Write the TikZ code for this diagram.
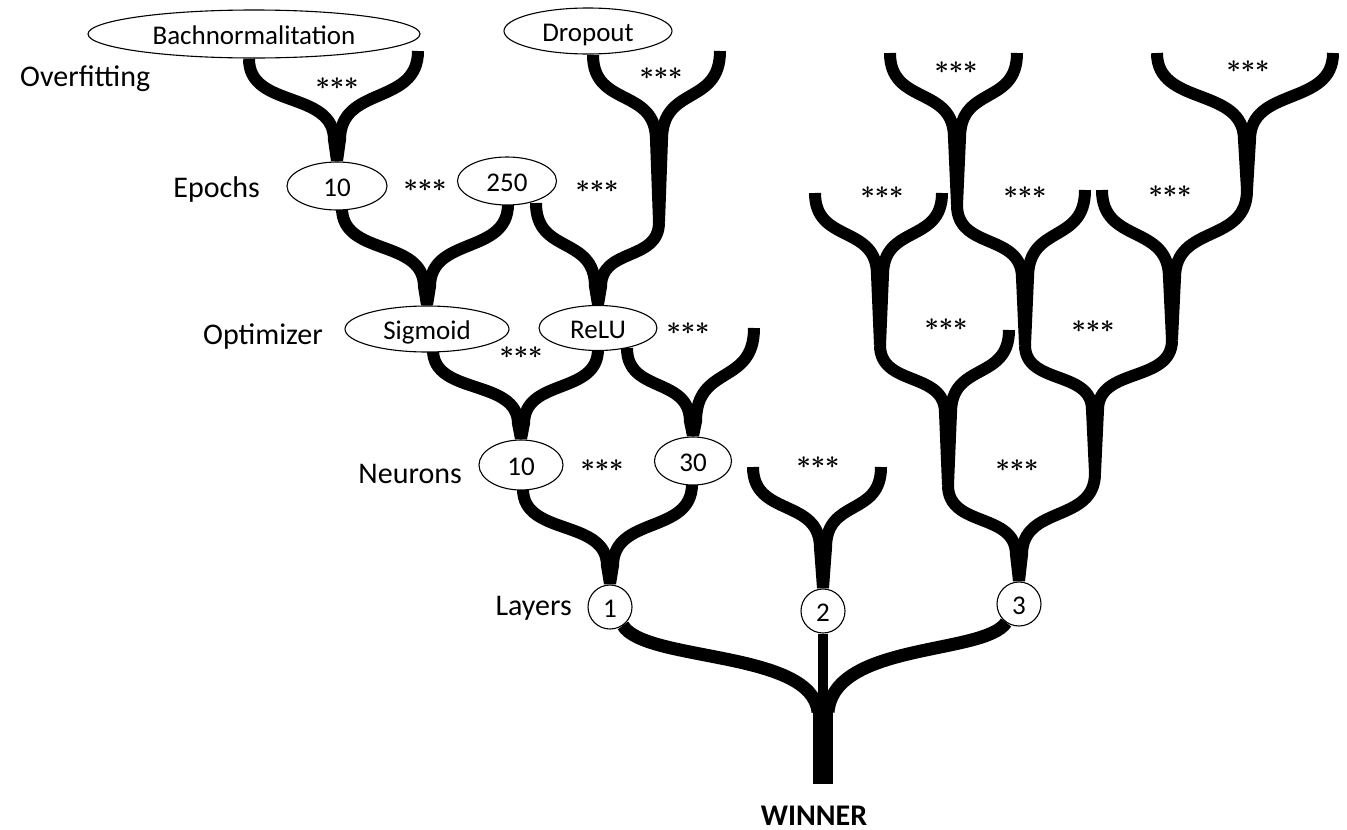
\documentclass[tikz,border=0pt]{standalone}
\usepackage{amsmath}
\usepackage{fontspec}
\setmainfont{Carlito}
\usetikzlibrary{shapes.geometric,calc,backgrounds}
\tikzset{
  branch/.style={line width=12pt, black},
  rootline/.style={line width=13pt, black},
  oval/.style={ellipse, draw, line width=1.1pt, fill=white, inner sep=0pt, text height=23pt, text depth=3pt, font=\fontsize{27}{30}\selectfont},
  numcirc/.style={circle, draw, line width=1.1pt, fill=white, inner sep=0pt, minimum size=44pt, text height=23pt, text depth=3pt, font=\fontsize{27}{30}\selectfont},
  lbl/.style={font=\fontsize{30}{34}\selectfont, inner sep=0pt},
  stars/.style={font=\fontsize{27}{30}\selectfont, inner sep=0pt},
}
\newcommand\arm[3][0.62]{\draw[branch] let \p1=(#2), \p2=(#3), \p3=($(\p2)+({-3*sign(\x2-\x1)},0pt)$) in (\p1) .. controls ($(\p1)!#1!(\x1,\y3)$) and ($(\p3)!#1!(\x3,\y1)$) .. (\p3);}
\newcommand\stem[2]{\fill let \p1=(#1), \p2=(#2) in (\x1-9pt,\y1) -- (\x1+9pt,\y1) -- (\x2+6pt,\y2) -- (\x2-6pt,\y2) -- cycle;}
\newcommand\stars{$\boldsymbol{{\ast}{\ast}{\ast}}$}
\begin{document}
\begin{tikzpicture}[x=1pt,y=-1pt]
\useasboundingbox (0,0) rectangle (1347,830);
% nodes
\node[oval, minimum width=332pt, minimum height=48pt] (bn) at (254,34) {Bachnormalitation};
\node[oval, minimum width=168pt, minimum height=46pt] (dr) at (588,31) {Dropout};
\node[lbl, anchor=base west] (overfit) at (20,86) {Overfitting};
\node[oval, minimum width=100pt, minimum height=48pt] (ep10) at (337,186) {10};
\node[oval, minimum width=99pt, minimum height=48pt] (ep250) at (507,181) {250};
\node[lbl, anchor=base east] (epochs) at (260,197) {Epochs};
\node[oval, minimum width=164pt, minimum height=46pt] (sig) at (427,329) {Sigmoid};
\node[oval, minimum width=118pt, minimum height=45pt] (relu) at (598,328) {ReLU};
\node[lbl, anchor=base east] (optim) at (323,344) {Optimizer};
\node[oval, minimum width=84pt, minimum height=50pt] (n10) at (521,465) {10};
\node[oval, minimum width=77pt, minimum height=48pt] (n30) at (693,461) {30};
\node[lbl, anchor=base east] (neurons) at (462,483) {Neurons};
\node[numcirc] (c1) at (610,607) {1};
\node[numcirc] (c2) at (823,611) {2};
\node[numcirc] (c3) at (1019,604) {3};
\node[lbl, anchor=base east] (layers) at (572,615) {Layers};
\node[lbl, font=\bfseries\fontsize{30}{34}\selectfont, anchor=base] (winner) at (814,825) {WINNER};
% stars
\node[stars] (s1) at (337,84) {\stars};
\node[stars] (s2) at (661,74) {\stars};
\node[stars] (s3) at (425,186) {\stars};
\node[stars] (s4) at (597,187) {\stars};
\node[stars] (s5) at (688,329) {\stars};
\node[stars] (s6) at (521,353) {\stars};
\node[stars] (s7) at (602,466) {\stars};
\node[stars] (s8) at (818,463) {\stars};
\node[stars] (s9) at (956,68) {\stars};
\node[stars] (s10) at (1248,67) {\stars};
\node[stars] (s11) at (882,193) {\stars};
\node[stars] (s12) at (1025,193) {\stars};
\node[stars] (s13) at (1170,192) {\stars};
\node[stars] (s14) at (946,325) {\stars};
\node[stars] (s15) at (1093,327) {\stars};
\node[stars] (s16) at (1017,466) {\stars};
% coordinates
\coordinate (aL) at (249,59); \coordinate (aR) at (418,51); \coordinate (aM) at (337,140);
\coordinate (bL) at (593,55); \coordinate (bR) at (720,51); \coordinate (bM) at (659,140); \coordinate (bK) at (659,222);
\coordinate (cL) at (536,203); \coordinate (cM) at (598,287);
\coordinate (dL) at (342,208); \coordinate (dR) at (508,204); \coordinate (dM) at (427,287);
\coordinate (eL) at (433,350); \coordinate (eR) at (598,349); \coordinate (eM) at (521,424);
\coordinate (fL) at (627,348); \coordinate (fR) at (754,328); \coordinate (fM) at (693,422);
\coordinate (gL) at (523,489); \coordinate (gR) at (692,484); \coordinate (gM) at (610,566);
\coordinate (hL) at (753,467); \coordinate (hR) at (881,467); \coordinate (hM) at (823,548);
\coordinate (iL) at (890,53); \coordinate (iR) at (1017,53); \coordinate (iM) at (957,138); \coordinate (iK) at (957,205);
\coordinate (jL) at (1157,53); \coordinate (jR) at (1333,53); \coordinate (jM) at (1247,140); \coordinate (jK) at (1247,190);
\coordinate (kL) at (815,193); \coordinate (kR) at (942,193); \coordinate (kM) at (880,275); \coordinate (kK) at (880,345);
\coordinate (lR) at (1085,190); \coordinate (lM) at (1025,278); \coordinate (lK) at (1025,345);
\coordinate (mL) at (1102,190); \coordinate (mM) at (1172,278); \coordinate (mK) at (1172,340);
\coordinate (nR) at (1009,330); \coordinate (nM) at (948,413); \coordinate (nK) at (948,485);
\coordinate (oM) at (1095,410); \coordinate (oK) at (1095,473);
\coordinate (pM) at (1019,555);
\coordinate (trunkTop) at (823,705); \coordinate (trunkBot) at (823,784);
\coordinate (joinL) at (818,712); \coordinate (joinR) at (828,712); \coordinate (joinC) at (823,712);
\begin{pgfonlayer}{background}
\arm{aL}{aM} \arm{aR}{aM} \stem{aM}{ep10.north}
\arm{bL}{bM} \arm{bR}{bM} \stem{bM}{bK}
\arm{cL}{cM} \arm{bK}{cM} \stem{cM}{relu.north}
\arm{dL}{dM} \arm{dR}{dM} \stem{dM}{sig.north}
\arm{eL}{eM} \arm{eR}{eM} \stem{eM}{n10.north}
\arm{fL}{fM} \arm{fR}{fM} \stem{fM}{n30.north}
\arm{gL}{gM} \arm{gR}{gM} \stem{gM}{c1.north}
\arm{hL}{hM} \arm{hR}{hM} \stem{hM}{c2.north}
\arm{iL}{iM} \arm{iR}{iM} \stem{iM}{iK}
\arm{jL}{jM} \arm{jR}{jM} \stem{jM}{jK}
\arm{kL}{kM} \arm{kR}{kM} \stem{kM}{kK}
\arm{iK}{lM} \arm{lR}{lM} \stem{lM}{lK}
\arm{mL}{mM} \arm{jK}{mM} \stem{mM}{mK}
\arm{kK}{nM} \arm{nR}{nM} \stem{nM}{nK}
\arm{lK}{oM} \arm{mK}{oM} \stem{oM}{oK}
\arm{nK}{pM} \arm{oK}{pM} \stem{pM}{c3.north}
\draw[rootline] (c1.-55) .. controls (645,662) and (812,650) .. (joinL);
\draw[rootline] (c3.-125) .. controls (985,655) and (834,642) .. (joinR);
\draw[line width=10pt] (c2.south) -- (joinC);
\draw[line width=20pt] (trunkTop) -- (trunkBot);
\end{pgfonlayer}
\end{tikzpicture}
\end{document}
